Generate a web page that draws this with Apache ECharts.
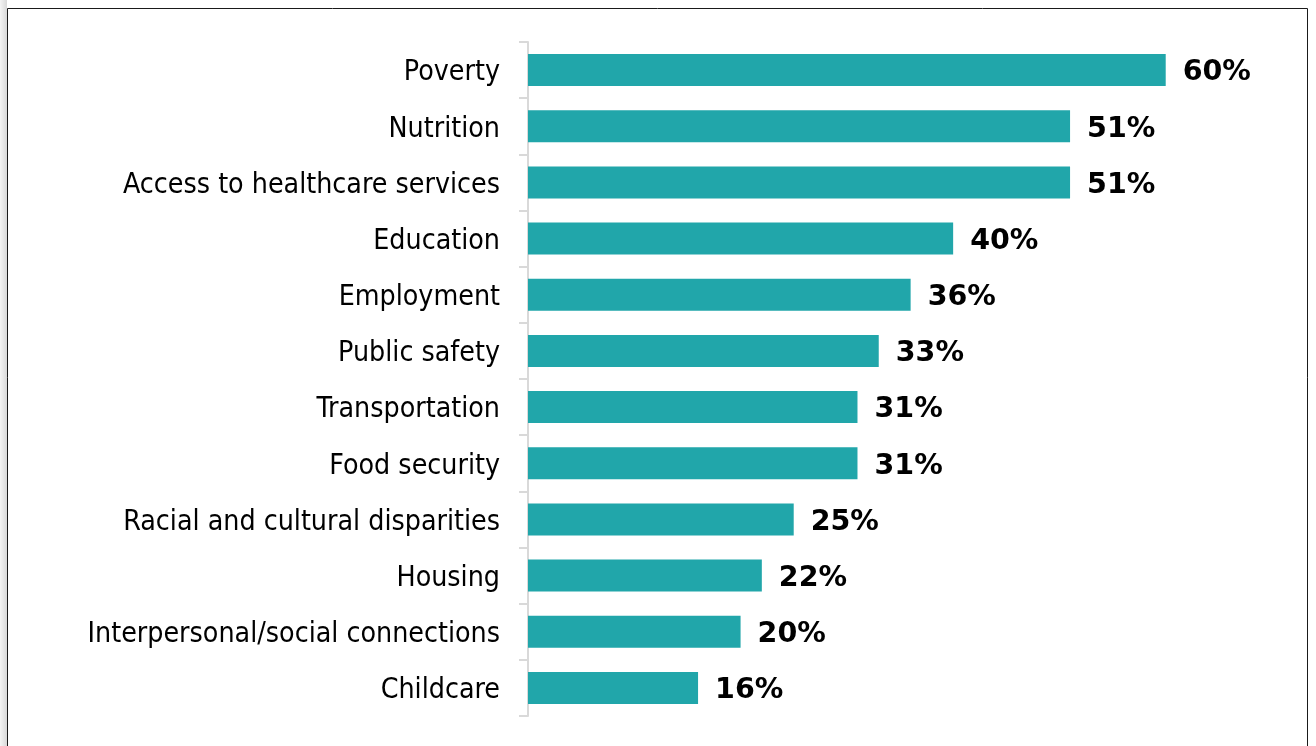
<!DOCTYPE html>
<html>
<head>
<meta charset="utf-8">
<script src="https://cdn.jsdelivr.net/npm/echarts@6/dist/echarts.min.js"></script>
<style>
  html, body { margin: 0; padding: 0; background: #fff; }
  #chart { width: 1316px; height: 746px; }
</style>
</head>
<body>
<div id="chart"></div>
<script>
// Share of respondents naming each issue (percent)
const categories = [
  'Poverty',
  'Nutrition',
  'Access to healthcare services',
  'Education',
  'Employment',
  'Public safety',
  'Transportation',
  'Food security',
  'Racial and cultural disparities',
  'Housing',
  'Interpersonal/social connections',
  'Childcare'
];
const values = [60, 51, 51, 40, 36, 33, 31, 31, 25, 22, 20, 16];

const barColor = '#21a6aa';
const labelFont = '"DejaVu Sans Condensed", "DejaVu Sans", sans-serif';
const valueFont = '"DejaVu Sans", Verdana, sans-serif';

const chart = echarts.init(document.getElementById('chart'), null, { renderer: 'canvas' });

chart.setOption({
  animation: false,
  backgroundColor: '#ffffff',
  graphic: [
    {
      type: 'rect',
      shape: { x: 0, y: 0, width: 7, height: 746 },
      style: {
        fill: new echarts.graphic.LinearGradient(0, 0, 1, 0, [
          { offset: 0, color: '#f4f4f4' },
          { offset: 1, color: '#d8d8d8' }
        ])
      },
      silent: true
    },
    {
      type: 'rect',
      shape: { x: 7.5, y: 8.5, width: 1300, height: 800 },
      style: { fill: null, stroke: '#1a1a1a', lineWidth: 1 },
      silent: true
    }
  ],
  grid: {
    left: 528,
    right: 44,
    top: 42,
    bottom: 30
  },
  xAxis: {
    type: 'value',
    min: 0,
    max: 70,
    show: false
  },
  yAxis: {
    type: 'category',
    inverse: true,
    data: categories,
    axisLine: { show: true, lineStyle: { color: '#d9d9d9', width: 2 } },
    axisTick: { show: true, length: 9, lineStyle: { color: '#d9d9d9', width: 2 } },
    axisLabel: {
      margin: 28,
      formatter: v => '{c|' + v + '}',
      rich: {
        c: {
          color: '#000',
          fontSize: 28.3,
          fontFamily: labelFont,
          padding: [6, 0, 0, 0]
        }
      }
    }
  },
  series: [{
    type: 'bar',
    data: values,
    barWidth: 32,
    itemStyle: { color: barColor },
    label: {
      show: true,
      position: 'right',
      distance: 17,
      offset: [0, 3],
      formatter: p => p.value + '%',
      color: '#000',
      fontWeight: 'bold',
      fontSize: 28.5,
      fontFamily: valueFont
    }
  }]
});
</script>
</body>
</html>
